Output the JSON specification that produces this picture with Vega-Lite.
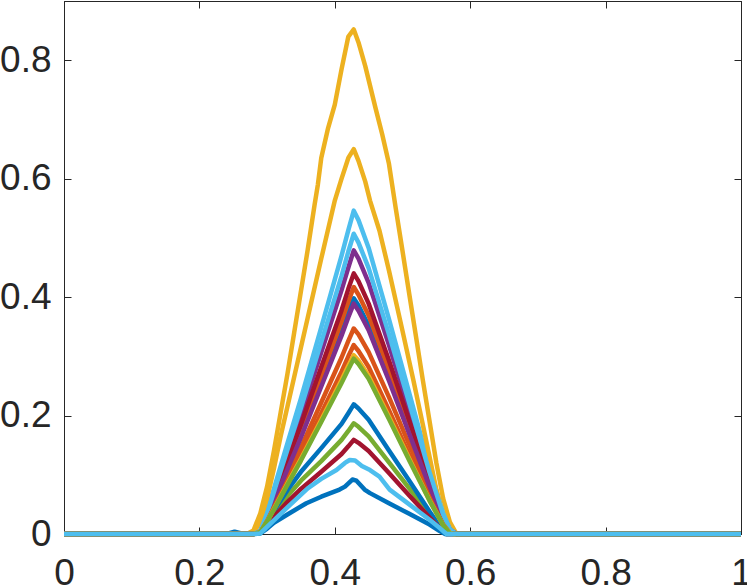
{
"$schema": "https://vega.github.io/schema/vega-lite/v6.json",
"width": 677, "height": 533,
"autosize": {"type": "none"},
"padding": {"left": 64, "top": 1, "right": 6, "bottom": 51},
"background": "white",
"config": {"view": {"stroke": "#262626", "strokeWidth": 1},
  "axis": {"grid": false, "domainColor": "#262626", "tickColor": "#262626", "labelColor": "#262626", "labelFont": "Liberation Sans", "labelFontSize": 37, "tickWidth": 1, "domainWidth": 1}},
"data": {"values": [
{"s":"s01","x":0,"y":0},{"s":"s01","x":0.24,"y":0},{"s":"s01","x":0.252,"y":0.004},{"s":"s01","x":0.265,"y":0},{"s":"s01","x":0.28,"y":0},{"s":"s01","x":0.29,"y":0.004},{"s":"s01","x":0.3,"y":0.028},{"s":"s01","x":0.31,"y":0.056},{"s":"s01","x":0.33,"y":0.111},{"s":"s01","x":0.35,"y":0.167},{"s":"s01","x":0.38,"y":0.254},{"s":"s01","x":0.41,"y":0.342},{"s":"s01","x":0.42,"y":0.374},{"s":"s01","x":0.428,"y":0.398},{"s":"s01","x":0.435,"y":0.386},{"s":"s01","x":0.45,"y":0.352},{"s":"s01","x":0.48,"y":0.264},{"s":"s01","x":0.51,"y":0.173},{"s":"s01","x":0.54,"y":0.081},{"s":"s01","x":0.56,"y":0.026},{"s":"s01","x":0.57,"y":0.006},{"s":"s01","x":0.58,"y":0},{"s":"s01","x":1,"y":0},
{"s":"s02","x":0,"y":0},{"s":"s02","x":0.28,"y":0},{"s":"s02","x":0.29,"y":0.004},{"s":"s02","x":0.3,"y":0.029},{"s":"s02","x":0.31,"y":0.058},{"s":"s02","x":0.33,"y":0.117},{"s":"s02","x":0.35,"y":0.175},{"s":"s02","x":0.38,"y":0.267},{"s":"s02","x":0.41,"y":0.359},{"s":"s02","x":0.42,"y":0.392},{"s":"s02","x":0.428,"y":0.417},{"s":"s02","x":0.435,"y":0.404},{"s":"s02","x":0.45,"y":0.369},{"s":"s02","x":0.48,"y":0.277},{"s":"s02","x":0.51,"y":0.181},{"s":"s02","x":0.54,"y":0.085},{"s":"s02","x":0.56,"y":0.027},{"s":"s02","x":0.57,"y":0.006},{"s":"s02","x":0.58,"y":0},{"s":"s02","x":1,"y":0},
{"s":"s03","x":0,"y":0},{"s":"s03","x":0.27,"y":0},{"s":"s03","x":0.28,"y":0.006},{"s":"s03","x":0.29,"y":0.035},{"s":"s03","x":0.3,"y":0.08},{"s":"s03","x":0.31,"y":0.14},{"s":"s03","x":0.32,"y":0.205},{"s":"s03","x":0.33,"y":0.27},{"s":"s03","x":0.34,"y":0.34},{"s":"s03","x":0.35,"y":0.41},{"s":"s03","x":0.36,"y":0.48},{"s":"s03","x":0.37,"y":0.555},{"s":"s03","x":0.375,"y":0.59},{"s":"s03","x":0.38,"y":0.635},{"s":"s03","x":0.39,"y":0.685},{"s":"s03","x":0.4,"y":0.725},{"s":"s03","x":0.41,"y":0.785},{"s":"s03","x":0.42,"y":0.84},{"s":"s03","x":0.428,"y":0.852},{"s":"s03","x":0.435,"y":0.83},{"s":"s03","x":0.445,"y":0.79},{"s":"s03","x":0.46,"y":0.72},{"s":"s03","x":0.47,"y":0.675},{"s":"s03","x":0.48,"y":0.625},{"s":"s03","x":0.49,"y":0.55},{"s":"s03","x":0.5,"y":0.478},{"s":"s03","x":0.51,"y":0.405},{"s":"s03","x":0.52,"y":0.333},{"s":"s03","x":0.53,"y":0.26},{"s":"s03","x":0.54,"y":0.19},{"s":"s03","x":0.55,"y":0.12},{"s":"s03","x":0.56,"y":0.06},{"s":"s03","x":0.57,"y":0.02},{"s":"s03","x":0.58,"y":0},{"s":"s03","x":1,"y":0},
{"s":"s04","x":0,"y":0},{"s":"s04","x":0.28,"y":0},{"s":"s04","x":0.29,"y":0.005},{"s":"s04","x":0.3,"y":0.034},{"s":"s04","x":0.31,"y":0.067},{"s":"s04","x":0.33,"y":0.134},{"s":"s04","x":0.35,"y":0.201},{"s":"s04","x":0.38,"y":0.307},{"s":"s04","x":0.41,"y":0.412},{"s":"s04","x":0.42,"y":0.45},{"s":"s04","x":0.428,"y":0.479},{"s":"s04","x":0.435,"y":0.465},{"s":"s04","x":0.45,"y":0.424},{"s":"s04","x":0.48,"y":0.319},{"s":"s04","x":0.51,"y":0.208},{"s":"s04","x":0.54,"y":0.098},{"s":"s04","x":0.56,"y":0.031},{"s":"s04","x":0.57,"y":0.007},{"s":"s04","x":0.58,"y":0},{"s":"s04","x":1,"y":0},
{"s":"s05","x":0,"y":0},{"s":"s05","x":0.28,"y":0},{"s":"s05","x":0.29,"y":0.002},{"s":"s05","x":0.3,"y":0.017},{"s":"s05","x":0.31,"y":0.034},{"s":"s05","x":0.33,"y":0.064},{"s":"s05","x":0.35,"y":0.09},{"s":"s05","x":0.38,"y":0.123},{"s":"s05","x":0.41,"y":0.159},{"s":"s05","x":0.42,"y":0.174},{"s":"s05","x":0.428,"y":0.187},{"s":"s05","x":0.435,"y":0.181},{"s":"s05","x":0.45,"y":0.165},{"s":"s05","x":0.48,"y":0.121},{"s":"s05","x":0.51,"y":0.077},{"s":"s05","x":0.54,"y":0.033},{"s":"s05","x":0.56,"y":0.005},{"s":"s05","x":0.565,"y":0},{"s":"s05","x":1,"y":0},
{"s":"s06","x":0,"y":0},{"s":"s06","x":0.28,"y":0},{"s":"s06","x":0.29,"y":0.005},{"s":"s06","x":0.3,"y":0.038},{"s":"s06","x":0.31,"y":0.076},{"s":"s06","x":0.33,"y":0.153},{"s":"s06","x":0.35,"y":0.229},{"s":"s06","x":0.38,"y":0.349},{"s":"s06","x":0.41,"y":0.47},{"s":"s06","x":0.42,"y":0.513},{"s":"s06","x":0.428,"y":0.546},{"s":"s06","x":0.435,"y":0.53},{"s":"s06","x":0.45,"y":0.483},{"s":"s06","x":0.48,"y":0.363},{"s":"s06","x":0.51,"y":0.238},{"s":"s06","x":0.54,"y":0.112},{"s":"s06","x":0.56,"y":0.035},{"s":"s06","x":0.57,"y":0.008},{"s":"s06","x":0.58,"y":0},{"s":"s06","x":1,"y":0},
{"s":"s07","x":0,"y":0},{"s":"s07","x":0.28,"y":0},{"s":"s07","x":0.29,"y":0.004},{"s":"s07","x":0.3,"y":0.031},{"s":"s07","x":0.31,"y":0.062},{"s":"s07","x":0.33,"y":0.123},{"s":"s07","x":0.35,"y":0.185},{"s":"s07","x":0.38,"y":0.282},{"s":"s07","x":0.41,"y":0.378},{"s":"s07","x":0.42,"y":0.414},{"s":"s07","x":0.428,"y":0.44},{"s":"s07","x":0.435,"y":0.427},{"s":"s07","x":0.45,"y":0.389},{"s":"s07","x":0.48,"y":0.293},{"s":"s07","x":0.51,"y":0.191},{"s":"s07","x":0.54,"y":0.09},{"s":"s07","x":0.56,"y":0.029},{"s":"s07","x":0.57,"y":0.007},{"s":"s07","x":0.58,"y":0},{"s":"s07","x":1,"y":0},
{"s":"s08","x":0,"y":0},{"s":"s08","x":0.28,"y":0},{"s":"s08","x":0.29,"y":0.002},{"s":"s08","x":0.3,"y":0.02},{"s":"s08","x":0.31,"y":0.039},{"s":"s08","x":0.33,"y":0.074},{"s":"s08","x":0.35,"y":0.105},{"s":"s08","x":0.38,"y":0.145},{"s":"s08","x":0.41,"y":0.186},{"s":"s08","x":0.42,"y":0.204},{"s":"s08","x":0.428,"y":0.219},{"s":"s08","x":0.435,"y":0.212},{"s":"s08","x":0.45,"y":0.193},{"s":"s08","x":0.48,"y":0.141},{"s":"s08","x":0.51,"y":0.09},{"s":"s08","x":0.54,"y":0.038},{"s":"s08","x":0.56,"y":0.005},{"s":"s08","x":0.565,"y":0},{"s":"s08","x":1,"y":0},
{"s":"s09","x":0,"y":0},{"s":"s09","x":0.28,"y":0},{"s":"s09","x":0.29,"y":0.003},{"s":"s09","x":0.3,"y":0.024},{"s":"s09","x":0.31,"y":0.049},{"s":"s09","x":0.33,"y":0.097},{"s":"s09","x":0.35,"y":0.146},{"s":"s09","x":0.38,"y":0.222},{"s":"s09","x":0.41,"y":0.298},{"s":"s09","x":0.42,"y":0.326},{"s":"s09","x":0.428,"y":0.347},{"s":"s09","x":0.435,"y":0.337},{"s":"s09","x":0.45,"y":0.307},{"s":"s09","x":0.48,"y":0.231},{"s":"s09","x":0.51,"y":0.151},{"s":"s09","x":0.54,"y":0.071},{"s":"s09","x":0.56,"y":0.023},{"s":"s09","x":0.57,"y":0.005},{"s":"s09","x":0.58,"y":0},{"s":"s09","x":1,"y":0},
{"s":"s10","x":0,"y":0},{"s":"s10","x":0.27,"y":0},{"s":"s10","x":0.28,"y":0.003},{"s":"s10","x":0.29,"y":0.02},{"s":"s10","x":0.3,"y":0.06},{"s":"s10","x":0.31,"y":0.11},{"s":"s10","x":0.32,"y":0.165},{"s":"s10","x":0.33,"y":0.215},{"s":"s10","x":0.34,"y":0.265},{"s":"s10","x":0.36,"y":0.365},{"s":"s10","x":0.38,"y":0.465},{"s":"s10","x":0.4,"y":0.563},{"s":"s10","x":0.41,"y":0.6},{"s":"s10","x":0.42,"y":0.635},{"s":"s10","x":0.428,"y":0.65},{"s":"s10","x":0.435,"y":0.63},{"s":"s10","x":0.445,"y":0.595},{"s":"s10","x":0.452,"y":0.563},{"s":"s10","x":0.466,"y":0.512},{"s":"s10","x":0.48,"y":0.445},{"s":"s10","x":0.5,"y":0.343},{"s":"s10","x":0.516,"y":0.26},{"s":"s10","x":0.53,"y":0.185},{"s":"s10","x":0.54,"y":0.13},{"s":"s10","x":0.55,"y":0.075},{"s":"s10","x":0.56,"y":0.03},{"s":"s10","x":0.57,"y":0.006},{"s":"s10","x":0.578,"y":0},{"s":"s10","x":1,"y":0},
{"s":"s11","x":0,"y":0},{"s":"s11","x":0.28,"y":0},{"s":"s11","x":0.29,"y":0.004},{"s":"s11","x":0.3,"y":0.027},{"s":"s11","x":0.31,"y":0.054},{"s":"s11","x":0.33,"y":0.109},{"s":"s11","x":0.35,"y":0.163},{"s":"s11","x":0.38,"y":0.249},{"s":"s11","x":0.41,"y":0.335},{"s":"s11","x":0.42,"y":0.366},{"s":"s11","x":0.428,"y":0.389},{"s":"s11","x":0.435,"y":0.377},{"s":"s11","x":0.45,"y":0.344},{"s":"s11","x":0.48,"y":0.259},{"s":"s11","x":0.51,"y":0.169},{"s":"s11","x":0.54,"y":0.08},{"s":"s11","x":0.56,"y":0.025},{"s":"s11","x":0.57,"y":0.006},{"s":"s11","x":0.58,"y":0},{"s":"s11","x":1,"y":0},
{"s":"s13","x":0,"y":0},{"s":"s13","x":0.28,"y":0},{"s":"s13","x":0.29,"y":0.005},{"s":"s13","x":0.3,"y":0.035},{"s":"s13","x":0.31,"y":0.071},{"s":"s13","x":0.33,"y":0.142},{"s":"s13","x":0.35,"y":0.213},{"s":"s13","x":0.38,"y":0.324},{"s":"s13","x":0.41,"y":0.436},{"s":"s13","x":0.42,"y":0.477},{"s":"s13","x":0.428,"y":0.507},{"s":"s13","x":0.435,"y":0.492},{"s":"s13","x":0.45,"y":0.449},{"s":"s13","x":0.48,"y":0.337},{"s":"s13","x":0.51,"y":0.221},{"s":"s13","x":0.54,"y":0.104},{"s":"s13","x":0.56,"y":0.033},{"s":"s13","x":0.57,"y":0.008},{"s":"s13","x":0.58,"y":0},{"s":"s13","x":1,"y":0},
{"s":"s14","x":0,"y":0},{"s":"s14","x":0.28,"y":0},{"s":"s14","x":0.29,"y":0.002},{"s":"s14","x":0.3,"y":0.014},{"s":"s14","x":0.31,"y":0.029},{"s":"s14","x":0.33,"y":0.054},{"s":"s14","x":0.35,"y":0.076},{"s":"s14","x":0.38,"y":0.105},{"s":"s14","x":0.41,"y":0.135},{"s":"s14","x":0.42,"y":0.148},{"s":"s14","x":0.428,"y":0.159},{"s":"s14","x":0.435,"y":0.154},{"s":"s14","x":0.45,"y":0.14},{"s":"s14","x":0.48,"y":0.103},{"s":"s14","x":0.51,"y":0.065},{"s":"s14","x":0.54,"y":0.028},{"s":"s14","x":0.56,"y":0.004},{"s":"s14","x":0.565,"y":0},{"s":"s14","x":1,"y":0},
{"s":"s15","x":0,"y":0},{"s":"s15","x":0.28,"y":0},{"s":"s15","x":0.29,"y":0.001},{"s":"s15","x":0.3,"y":0.009},{"s":"s15","x":0.31,"y":0.019},{"s":"s15","x":0.33,"y":0.033},{"s":"s15","x":0.358,"y":0.052},{"s":"s15","x":0.38,"y":0.063},{"s":"s15","x":0.407,"y":0.075},{"s":"s15","x":0.415,"y":0.08},{"s":"s15","x":0.426,"y":0.092},{"s":"s15","x":0.432,"y":0.09},{"s":"s15","x":0.444,"y":0.075},{"s":"s15","x":0.452,"y":0.069},{"s":"s15","x":0.48,"y":0.052},{"s":"s15","x":0.51,"y":0.034},{"s":"s15","x":0.54,"y":0.016},{"s":"s15","x":0.555,"y":0.005},{"s":"s15","x":0.563,"y":0},{"s":"s15","x":1,"y":0},
{"s":"s16","x":0,"y":0},{"s":"s16","x":0.28,"y":0},{"s":"s16","x":0.29,"y":0.003},{"s":"s16","x":0.3,"y":0.022},{"s":"s16","x":0.31,"y":0.045},{"s":"s16","x":0.33,"y":0.089},{"s":"s16","x":0.35,"y":0.134},{"s":"s16","x":0.38,"y":0.204},{"s":"s16","x":0.41,"y":0.274},{"s":"s16","x":0.42,"y":0.3},{"s":"s16","x":0.428,"y":0.319},{"s":"s16","x":0.435,"y":0.309},{"s":"s16","x":0.45,"y":0.282},{"s":"s16","x":0.48,"y":0.209},{"s":"s16","x":0.51,"y":0.134},{"s":"s16","x":0.54,"y":0.061},{"s":"s16","x":0.56,"y":0.016},{"s":"s16","x":0.57,"y":0.002},{"s":"s16","x":0.575,"y":0},{"s":"s16","x":1,"y":0},
{"s":"s17","x":0,"y":0},{"s":"s17","x":0.28,"y":0},{"s":"s17","x":0.29,"y":0.003},{"s":"s17","x":0.3,"y":0.021},{"s":"s17","x":0.31,"y":0.042},{"s":"s17","x":0.33,"y":0.085},{"s":"s17","x":0.35,"y":0.127},{"s":"s17","x":0.38,"y":0.193},{"s":"s17","x":0.41,"y":0.26},{"s":"s17","x":0.42,"y":0.284},{"s":"s17","x":0.428,"y":0.302},{"s":"s17","x":0.435,"y":0.293},{"s":"s17","x":0.45,"y":0.267},{"s":"s17","x":0.48,"y":0.198},{"s":"s17","x":0.51,"y":0.127},{"s":"s17","x":0.54,"y":0.057},{"s":"s17","x":0.56,"y":0.015},{"s":"s17","x":0.57,"y":0.002},{"s":"s17","x":0.575,"y":0},{"s":"s17","x":1,"y":0},
{"s":"s19","x":0,"y":0},{"s":"s19","x":0.28,"y":0},{"s":"s19","x":0.29,"y":0.003},{"s":"s19","x":0.3,"y":0.021},{"s":"s19","x":0.31,"y":0.041},{"s":"s19","x":0.33,"y":0.083},{"s":"s19","x":0.35,"y":0.124},{"s":"s19","x":0.38,"y":0.189},{"s":"s19","x":0.41,"y":0.255},{"s":"s19","x":0.42,"y":0.278},{"s":"s19","x":0.428,"y":0.296},{"s":"s19","x":0.435,"y":0.287},{"s":"s19","x":0.45,"y":0.262},{"s":"s19","x":0.48,"y":0.194},{"s":"s19","x":0.51,"y":0.124},{"s":"s19","x":0.54,"y":0.056},{"s":"s19","x":0.56,"y":0.015},{"s":"s19","x":0.57,"y":0.001},{"s":"s19","x":0.575,"y":0},{"s":"s19","x":1,"y":0},
{"s":"s20","x":0,"y":0},{"s":"s20","x":0.28,"y":0},{"s":"s20","x":0.29,"y":0.001},{"s":"s20","x":0.3,"y":0.012},{"s":"s20","x":0.33,"y":0.045},{"s":"s20","x":0.36,"y":0.077},{"s":"s20","x":0.38,"y":0.093},{"s":"s20","x":0.4025,"y":0.108},{"s":"s20","x":0.415,"y":0.12},{"s":"s20","x":0.422,"y":0.125},{"s":"s20","x":0.43,"y":0.124},{"s":"s20","x":0.44,"y":0.115},{"s":"s20","x":0.452,"y":0.108},{"s":"s20","x":0.466,"y":0.097},{"s":"s20","x":0.481,"y":0.075},{"s":"s20","x":0.51,"y":0.05},{"s":"s20","x":0.54,"y":0.024},{"s":"s20","x":0.555,"y":0.01},{"s":"s20","x":0.565,"y":0},{"s":"s20","x":1,"y":0}
]},
"layer": [
 {"mark": {"type": "line", "strokeWidth": 4.5, "strokeJoin": "round"},
  "encoding": {
   "x": {"field": "x", "type": "quantitative", "scale": {"domain": [0, 1], "nice": false, "zero": false},
     "axis": {"orient": "bottom", "values": [0, 0.2, 0.4, 0.6, 0.8, 1], "format": "~g", "tickSize": -7, "labelPadding": 28, "labelFlush": false, "labelOverlap": false, "title": null}},
   "y": {"field": "y", "type": "quantitative", "scale": {"domain": [0, 0.9], "nice": false},
     "axis": {"orient": "left", "values": [0, 0.2, 0.4, 0.6, 0.8], "format": "~g", "tickSize": -7, "labelPadding": 20, "labelFlush": false, "labelOverlap": false, "title": null}},
   "color": {"field": "s", "type": "nominal", "legend": null,
     "scale": {"domain": ["s01","s02","s03","s04","s05","s06","s07","s08","s09","s10","s11","s13","s14","s15","s16","s17","s19","s20"],
       "range": ["#0072BD","#D95319","#EDB120","#7E2F8E","#77AC30","#4DBEEE","#A2142F","#0072BD","#D95319","#EDB120","#7E2F8E","#4DBEEE","#A2142F","#0072BD","#D95319","#EDB120","#77AC30","#4DBEEE"]}}
  }},
 {"mark": {"type": "line", "strokeOpacity": 0},
  "encoding": {
   "x": {"field": "x", "type": "quantitative", "axis": {"orient": "top", "values": [0, 0.2, 0.4, 0.6, 0.8, 1], "labels": false, "tickSize": -7, "title": null}},
   "y": {"field": "y", "type": "quantitative", "axis": {"orient": "right", "values": [0, 0.2, 0.4, 0.6, 0.8], "labels": false, "tickSize": -7, "title": null}},
   "detail": {"field": "s", "type": "nominal"}
  }}
],
"resolve": {"axis": {"x": "independent", "y": "independent"}}
}
